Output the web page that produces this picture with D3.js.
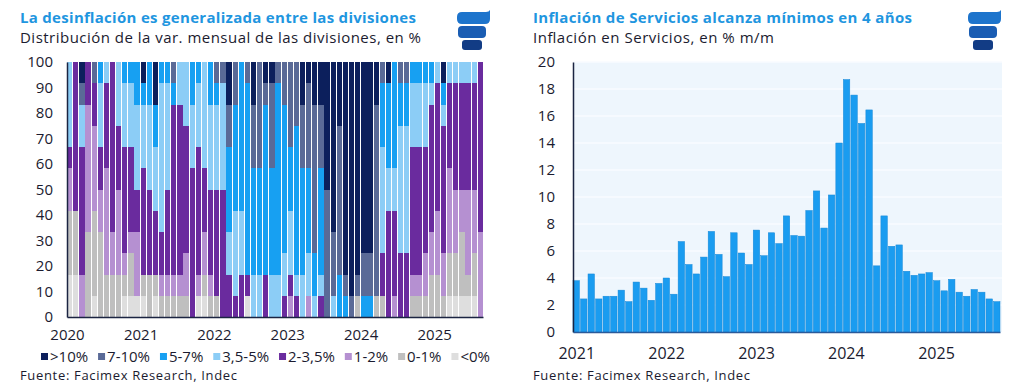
<!DOCTYPE html>
<html>
<head>
<meta charset="utf-8">
<script src="https://cdn.jsdelivr.net/npm/d3@7"></script>
<style>
  body { margin: 0; background: #fff; }
  svg { display: block; font-family: "Open Sans", sans-serif; }
</style>
</head>
<body>
<svg id="chart" width="1024" height="386"></svg>
<script>
// ---- data: left panel, number of divisions (of 12) in each range, Jan 2020 - Aug 2025
const categorias = [">10%", "7-10%", "5-7%", "3,5-5%", "2-3,5%", "1-2%", "0-1%", "<0%"]
const coloresCat = ["#0c1f5c", "#5a6a97", "#17a0f2", "#8ccdf6", "#6a2b9e", "#b590d1", "#bfbfbf", "#dedede"]
const totalDivisiones = 12

const mayor10 = [0,0,1,0,0,0,0,0,0,0, 0,0,1,0,2,0,0,0,0,0, 0,0,0,0,0,0,2,0,0,0, 2,0,1,1,0,0,0,0,2,1, 2,2,6,8,3,10,11,10,9,9, 2,0,1,0,0,0,0,0,0,0, 0,1,0,0,0,0,0,0]
const de7a10 = [0,0,1,0,1,0,0,0,0,0, 0,0,0,0,0,0,0,1,0,0, 0,0,0,0,1,1,2,2,0,1, 3,5,1,4,1,2,4,3,3,4, 7,3,6,3,7,1,1,1,2,2, 9,1,0,0,1,1,0,0,0,0, 0,0,0,0,0,0,0,0]
const de5a7 = [0,0,0,0,0,1,0,0,0,1, 1,2,1,2,2,1,1,1,0,0, 2,1,0,2,1,0,4,5,7,9, 5,5,8,5,9,7,3,7,5,4, 2,5,0,0,2,1,0,0,1,1, 0,3,4,5,2,2,1,1,1,1, 0,1,0,0,0,0,0,0]
const de35a5 = [4,0,2,0,0,3,1,0,3,3, 3,4,3,4,3,7,5,0,2,3, 3,3,5,4,4,5,2,4,3,0, 2,2,0,2,2,2,3,1,2,2, 1,1,0,1,0,0,0,0,0,0, 0,5,2,2,6,6,3,3,3,1, 1,1,1,1,1,1,1,0]
const de2a35 = [1,7,6,2,2,2,4,8,3,5, 4,2,5,4,3,2,4,8,8,6, 7,6,3,4,5,6,2,1,2,1, 0,0,2,0,0,1,1,1,0,0, 0,1,0,0,0,0,0,0,0,0, 0,2,5,4,3,3,6,6,5,6, 6,6,4,5,5,5,5,8]
const de1a2 = [2,0,2,6,4,2,5,2,4,1, 1,3,0,0,0,1,1,1,1,2, 0,1,2,1,0,0,0,0,0,0, 0,0,0,0,0,0,1,0,0,1, 0,0,0,0,0,0,0,0,0,0, 0,0,0,1,0,0,1,1,2,2, 3,2,4,3,2,4,3,4]
const de0a1 = [3,3,0,4,4,4,2,2,2,1, 2,0,1,2,1,1,1,1,1,1, 0,0,1,1,1,0,0,0,0,0, 0,0,0,0,0,0,0,0,0,0, 0,0,0,0,0,0,0,1,0,0, 1,1,0,0,0,0,1,1,1,2, 2,1,2,2,3,1,2,0]
const menor0 = [2,2,0,0,1,0,0,0,0,1, 1,1,1,0,1,0,0,0,0,0, 0,1,1,0,0,0,0,0,0,1, 0,0,0,0,0,0,0,0,0,0, 0,0,0,0,0,0,0,0,0,0, 0,0,0,0,0,0,0,0,0,0, 0,0,1,1,1,1,1,0]
const seriesIzq = [mayor10, de7a10, de5a7, de35a5, de2a35, de1a2, de0a1, menor0]
const yTicksIzq = [0, 10, 20, 30, 40, 50, 60, 70, 80, 90, 100]

// ---- data: right panel, services inflation % m/m, Jan 2021 - Sep 2025
const servicios = [
  3.8, 2.45, 4.3, 2.45, 2.65, 2.65, 3.1, 2.25, 3.7, 3.25, 2.35, 3.6,
  4.0, 2.8, 6.7, 5.0, 4.3, 5.55, 7.45, 5.75, 4.1, 7.35, 5.85, 5.0,
  7.55, 5.65, 7.35, 6.55, 8.6, 7.15, 7.1, 9.0, 10.45, 7.7, 10.15, 14.0,
  18.7, 17.55, 15.45, 16.45, 4.9, 8.6, 6.35, 6.45, 4.5, 4.2, 4.3, 4.4,
  3.8, 3.05, 3.9, 2.95, 2.65, 3.15, 2.95, 2.45, 2.25
]
const yTicksDer = [0, 2, 4, 6, 8, 10, 12, 14, 16, 18, 20]

const mesesIzq = d3.timeMonth.range(new Date(2020, 0, 1), new Date(2020, 0 + mayor10.length, 1))
const mesesDer = d3.timeMonth.range(new Date(2021, 0, 1), new Date(2021, 0 + servicios.length, 1))

const textColor = "#1b1b2f"
const titleColor = "#1f96df"
const axisColor = "#1b2442"

const svg = d3.select("#chart")

// helpers
function header(x, title, subtitle, titleW, subW) {
  svg.append("text").attr("x", x).attr("y", 23)
    .attr("font-size", 15).attr("font-weight", 700).attr("fill", titleColor)
    .attr("textLength", titleW).text(title)
  svg.append("text").attr("x", x).attr("y", 43)
    .attr("font-size", 15).attr("fill", textColor)
    .attr("textLength", subW).text(subtitle)
}

function logo(x) {
  const g = svg.append("g").attr("transform", `translate(${x},10)`)
  g.append("path")
    .attr("d", "M5,2 H29 Q32,2 33,0 L33,9 Q33,14 28,14 H5 Q0,14 0,9 V7 Q0,2 5,2 Z")
    .attr("fill", "#1d74cc")
  g.append("path")
    .attr("d", "M5,16 H25 Q29,16 29,20 V24 Q29,28 25,28 H5 Q1,28 1,24 V20 Q1,16 5,16 Z")
    .attr("fill", "#1a5db3")
  g.append("path")
    .attr("d", "M8,30 H22 Q25,30 25,33 V37 Q25,40 22,40 H8 Q5,40 5,37 V33 Q5,30 8,30 Z")
    .attr("fill", "#123c85")
}

function source(x) {
  svg.append("text").attr("x", x).attr("y", 380)
    .attr("font-size", 13).attr("fill", textColor)
    .attr("textLength", 217).text("Fuente: Facimex Research, Indec")
}

function styleAxis(g, size) {
  g.selectAll("text").attr("font-size", size).attr("fill", textColor)
    .attr("font-family", "Open Sans, sans-serif")
  g.select(".domain").attr("stroke", axisColor).attr("stroke-width", 1.5)
}

// ================= LEFT PANEL =================
header(20, "La desinflación es generalizada entre las divisiones",
  "Distribución de la var. mensual de las divisiones, en %", 396, 401)
logo(457)

const left = { x0: 67, x1: 483, y0: 317, y1: 62 }

const tablaIzq = mesesIzq.map((m, i) => {
  const row = { mes: m }
  categorias.forEach((c, j) => { row[c] = seriesIzq[j][i] / totalDivisiones * 100 })
  return row
})

// stack from "<0%" at the bottom up to ">10%"
const stackIzq = d3.stack().keys(categorias.slice().reverse())(tablaIzq)
const colorIzq = d3.scaleOrdinal().domain(categorias).range(coloresCat)

const xIzq = d3.scaleBand().domain(mesesIzq).range([left.x0, left.x1]).paddingInner(0.14)
const yIzq = d3.scaleLinear().domain([0, 100]).range([left.y0, left.y1])

svg.append("g")
  .selectAll("g")
  .data(stackIzq)
  .join("g")
  .attr("fill", (s) => colorIzq(s.key))
  .selectAll("rect")
  .data((s) => s)
  .join("rect")
  .attr("x", (d) => xIzq(d.data.mes))
  .attr("width", xIzq.bandwidth())
  .attr("y", (d) => yIzq(d[1]))
  .attr("height", (d) => yIzq(d[0]) - yIzq(d[1]))
  .attr("shape-rendering", "crispEdges")

const yAxisIzq = svg.append("g")
  .attr("transform", `translate(${left.x0},0)`)
  .call(d3.axisLeft(yIzq).tickValues(yTicksIzq).tickSize(0).tickPadding(14))
styleAxis(yAxisIzq, 15)

const tIzq = d3.scaleTime().domain([mesesIzq[0], d3.timeMonth.offset(mesesIzq[mesesIzq.length - 1], 1)])
  .range([left.x0, left.x1])
const xAxisIzq = svg.append("g")
  .attr("transform", `translate(0,${left.y0})`)
  .call(d3.axisBottom(tIzq).ticks(d3.timeYear.every(1)).tickFormat(d3.timeFormat("%Y"))
    .tickSize(0).tickPadding(12))
styleAxis(xAxisIzq, 15)

// legend: flow items, spread to fill the reference width
const legend = svg.append("g").attr("transform", "translate(41,357)")
const items = categorias.map((c) => {
  const g = legend.append("g")
  g.append("rect").attr("y", -4).attr("width", 7).attr("height", 7).attr("fill", colorIzq(c))
  const t = g.append("text").attr("x", 9).attr("y", 5)
    .attr("font-size", 15).attr("fill", textColor).text(c)
  return { g, w: 9 + t.node().getComputedTextLength() }
})
const gap = (449 - d3.sum(items, (d) => d.w)) / (items.length - 1)
let lx = 0
items.forEach((it) => { it.g.attr("transform", `translate(${lx},0)`); lx += it.w + gap })

source(20)

// ================= RIGHT PANEL =================
header(533, "Inflación de Servicios alcanza mínimos en 4 años",
  "Inflación en Servicios, en % m/m", 379, 241)
logo(968)

const right = { x0: 573, x1: 1000, y0: 332, y1: 62 }

const xDer = d3.scaleBand().domain(mesesDer).range([right.x0, right.x1]).paddingInner(0.14)
const yDer = d3.scaleLinear().domain([0, 20]).range([right.y0, right.y1])

svg.append("rect")
  .attr("x", right.x0).attr("y", right.y1)
  .attr("width", right.x1 - right.x0 + 2).attr("height", right.y0 - right.y1)
  .attr("fill", "#eef6fd")

svg.append("g")
  .selectAll("line")
  .data(yTicksDer.slice(1))
  .join("line")
  .attr("x1", right.x0).attr("x2", right.x1 + 2)
  .attr("y1", (d) => yDer(d)).attr("y2", (d) => yDer(d))
  .attr("stroke", "#f8fbff").attr("stroke-width", 1.5)

svg.append("g")
  .selectAll("rect")
  .data(servicios)
  .join("rect")
  .attr("x", (d, i) => xDer(mesesDer[i]))
  .attr("width", xDer.bandwidth())
  .attr("y", (d) => yDer(d))
  .attr("height", (d) => yDer(0) - yDer(d))
  .attr("fill", "#1a9cf0")
  .attr("stroke", "#1788d8")
  .attr("stroke-width", 0.5)

const yAxisDer = svg.append("g")
  .attr("transform", `translate(${right.x0},0)`)
  .call(d3.axisLeft(yDer).tickValues(yTicksDer).tickSize(0).tickPadding(18))
styleAxis(yAxisDer, 15)

const tDer = d3.scaleTime().domain([mesesDer[0], d3.timeMonth.offset(mesesDer[mesesDer.length - 1], 1)])
  .range([right.x0, right.x1])
const xAxisDer = svg.append("g")
  .attr("transform", `translate(${xDer.bandwidth() / 2},${right.y0})`)
  .call(d3.axisBottom(tDer).ticks(d3.timeYear.every(1)).tickFormat(d3.timeFormat("%Y"))
    .tickSize(0).tickPadding(16))
styleAxis(xAxisDer, 16)
xAxisDer.select(".domain").attr("transform", `translate(${-xDer.bandwidth() / 2},0)`)
  .attr("stroke", "#2a5a9a")

source(533)
</script>
</body>
</html>
